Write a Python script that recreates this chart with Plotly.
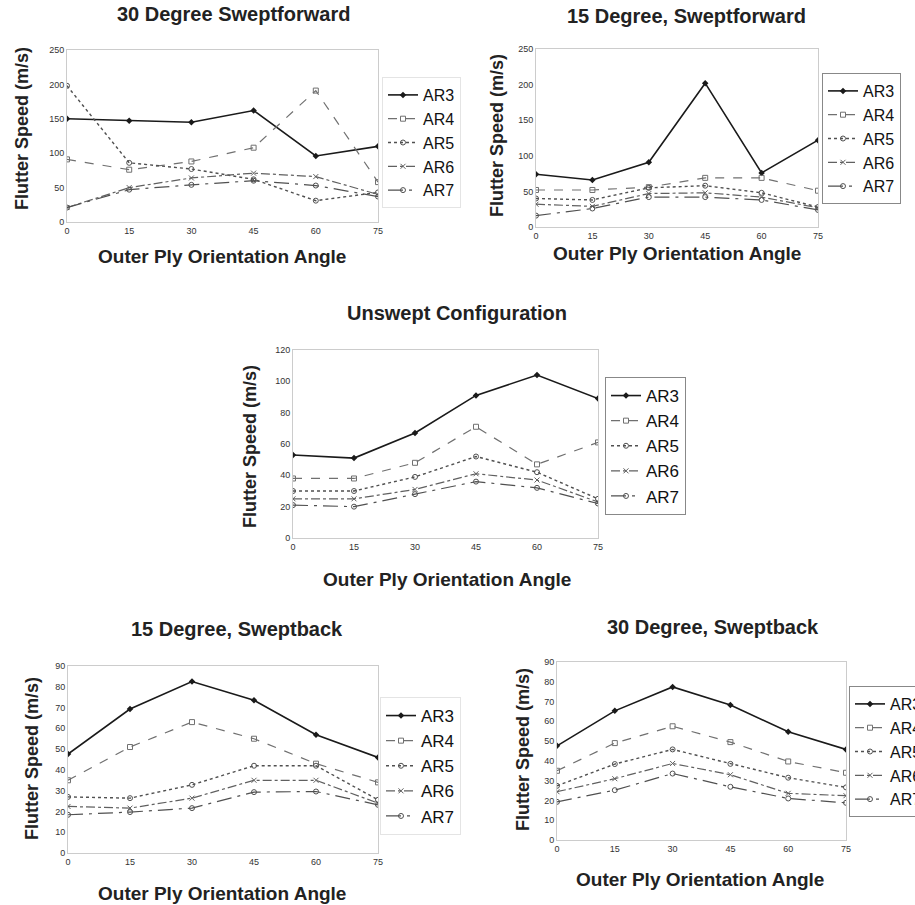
import plotly.graph_objects as go

angles = [0, 15, 30, 45, 60, 75]
series_names = ["AR3", "AR4", "AR5", "AR6", "AR7"]

# 30 Degree Sweptforward
sf30 = {
    "AR3": [150, 147, 145, 162, 96, 110],
    "AR4": [91, 76, 88, 108, 191, 58],
    "AR5": [198, 86, 77, 62, 31, 43],
    "AR6": [21, 50, 64, 71, 66, 40],
    "AR7": [21, 47, 54, 60, 53, 37],
}
# 15 Degree, Sweptforward
sf15 = {
    "AR3": [74, 66, 91, 202, 76, 122],
    "AR4": [52, 52, 56, 69, 69, 51],
    "AR5": [40, 38, 55, 58, 48, 28],
    "AR6": [32, 29, 47, 48, 42, 27],
    "AR7": [16, 26, 42, 42, 38, 24],
}
# Unswept Configuration
unswept = {
    "AR3": [53, 51, 67, 91, 104, 89],
    "AR4": [38, 38, 48, 71, 47, 61],
    "AR5": [30, 30, 39, 52, 42, 25],
    "AR6": [25, 25, 31, 41, 37, 23],
    "AR7": [21, 20, 28, 36, 32, 22],
}
# 15 Degree, Sweptback
sb15 = {
    "AR3": [47.6, 69.3, 82.5, 73.5, 56.9, 46],
    "AR4": [35, 51, 63, 55, 43, 34],
    "AR5": [27, 26.4, 32.8, 42, 42, 25.6],
    "AR6": [22.4, 21.6, 26.4, 35, 35, 24],
    "AR7": [18.4, 19.7, 21.6, 29.3, 29.6, 23.2],
}
# 30 Degree, Sweptback
sb30 = {
    "AR3": [47.6, 65.3, 77.4, 68.3, 54.7, 45.8],
    "AR4": [35, 49, 57.5, 49.5, 39.7, 34],
    "AR5": [27.4, 38.4, 45.8, 38.5, 31.5, 26.6],
    "AR6": [24.4, 31, 38.7, 33, 23.6, 22.4],
    "AR7": [19.3, 25.2, 33.6, 26.9, 21, 18.8],
}

titles = ["30 Degree Sweptforward", "15 Degree, Sweptforward", "Unswept Configuration",
          "15 Degree, Sweptback", "30 Degree, Sweptback"]
datasets = [sf30, sf15, unswept, sb15, sb30]
ymax = [250, 250, 120, 90, 90]
ydtick = [50, 50, 20, 10, 10]

W, H = 915, 905
def px(x):
    return x / W
def py(y):
    return 1 - y / H

# plot areas in pixels: (x0, x1, ytop, ybottom)
areas = [(67, 378, 50, 222), (536, 818, 49, 227), (293, 598, 350, 538),
         (68, 378, 666, 853), (557, 846, 662, 840)]
title_pos = [(233, 14), (686, 16), (457, 313), (237, 629), (713, 627)]
xtitle_pos = [(222, 256), (677, 253), (447, 579), (222, 893), (700, 879)]
ytitle_pos = [(22, 129), (497, 136), (250, 447), (32, 759), (523, 750)]
legend_pos = [(382, 77), (822, 73), (605, 377), (380, 697), (849, 686)]
legend_font = [16, 16, 17, 17, 16]
legend_border = ["#e4e4e4", "#888888", "#888888", "#e4e4e4", "#888888"]

styles = {
    "AR3": dict(line=dict(color="#1a1a1a", width=1.6, dash="solid"),
                marker=dict(symbol="diamond", size=5, color="#1a1a1a")),
    "AR4": dict(line=dict(color="#707070", width=1.2, dash="dash"),
                marker=dict(symbol="square-open", size=5, color="#707070")),
    "AR5": dict(line=dict(color="#505050", width=1.4, dash="dot"),
                marker=dict(symbol="circle-open", size=5, color="#505050")),
    "AR6": dict(line=dict(color="#606060", width=1.2, dash="dashdot"),
                marker=dict(symbol="x-thin-open", size=5, color="#606060")),
    "AR7": dict(line=dict(color="#505050", width=1.2, dash="longdashdot"),
                marker=dict(symbol="circle-open", size=5, color="#505050")),
}

fig = go.Figure()
layout = dict(width=W, height=H, paper_bgcolor="white", plot_bgcolor="white",
              margin=dict(l=0, r=0, t=0, b=0, autoexpand=False),
              font=dict(family="Liberation Sans, Arial, sans-serif", color="#222"),
              annotations=[])

for i, data in enumerate(datasets):
    n = i + 1
    xa = "x" if n == 1 else f"x{n}"
    ya = "y" if n == 1 else f"y{n}"
    lg = "legend" if n == 1 else f"legend{n}"
    for name in series_names:
        fig.add_trace(go.Scatter(x=angles, y=data[name], name=name, mode="lines+markers",
                                 xaxis=xa, yaxis=ya, legend=lg, **styles[name]))
    x0, x1, yt, yb = areas[i]
    axis_common = dict(showline=True, mirror=True, linecolor="#cccccc", linewidth=1,
                       showgrid=False, zeroline=False, ticks="",
                       tickfont=dict(size=9, color="#333"))
    layout["xaxis" if n == 1 else f"xaxis{n}"] = dict(
        domain=[px(x0), px(x1)], anchor=ya, range=[0, 75], tickvals=angles, **axis_common)
    layout["yaxis" if n == 1 else f"yaxis{n}"] = dict(
        domain=[py(yb), py(yt)], anchor=xa, range=[0, ymax[i]], dtick=ydtick[i], **axis_common)
    lx, ly = legend_pos[i]
    layout[lg] = dict(x=px(lx), y=py(ly), xanchor="left", yanchor="top",
                      xref="paper", yref="paper",
                      font=dict(size=legend_font[i], color="#111"), bgcolor="rgba(255,255,255,0)",
                      bordercolor=legend_border[i], borderwidth=1, itemwidth=30,
                      tracegroupgap=0)
    tx, ty = title_pos[i]
    layout["annotations"].append(dict(text=f"<b>{titles[i]}</b>", x=px(tx), y=py(ty),
                                      xref="paper", yref="paper", showarrow=False,
                                      xanchor="center", yanchor="middle",
                                      font=dict(size=20, color="#222")))
    ax_, ay_ = xtitle_pos[i]
    layout["annotations"].append(dict(text="<b>Outer Ply Orientation Angle</b>", x=px(ax_), y=py(ay_),
                                      xref="paper", yref="paper", showarrow=False,
                                      xanchor="center", yanchor="middle",
                                      font=dict(size=19, color="#222")))
    yx, yy = ytitle_pos[i]
    layout["annotations"].append(dict(text="<b>Flutter Speed (m/s)</b>", x=px(yx), y=py(yy),
                                      xref="paper", yref="paper", showarrow=False, textangle=-90,
                                      xanchor="center", yanchor="middle",
                                      font=dict(size=18, color="#222")))

fig.update_layout(**layout)
fig.write_html("out.html", config={"displayModeBar": False},
               post_script="document.body.style.margin='0';document.body.style.overflow='hidden';")
